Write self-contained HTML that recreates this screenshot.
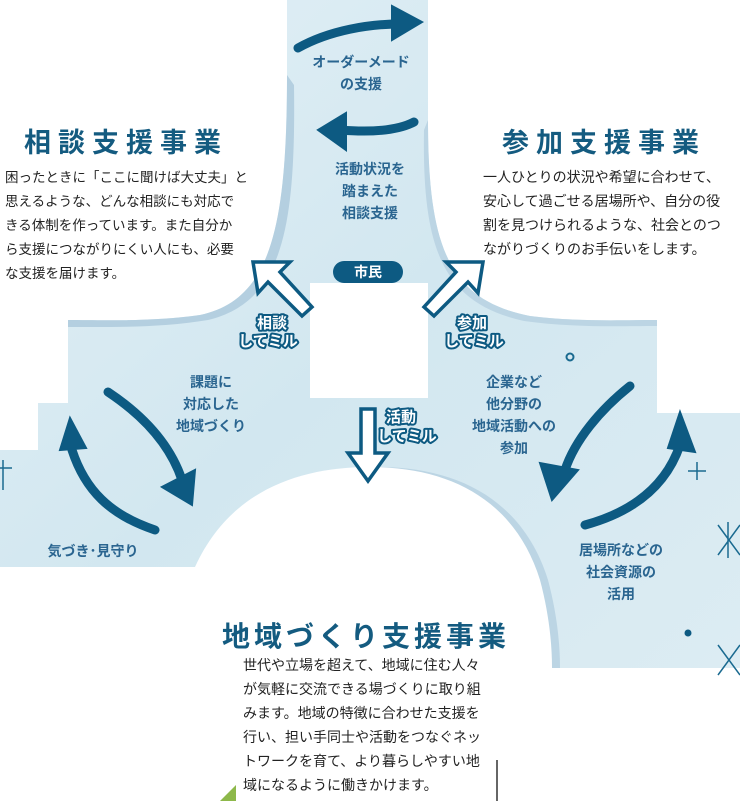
<!DOCTYPE html>
<html><head><meta charset="utf-8"><style>
html,body{margin:0;padding:0;background:#fff;}
body{width:740px;height:801px;overflow:hidden;position:relative;font-family:"Liberation Sans","Noto Sans CJK JP",sans-serif;}
svg{position:absolute;left:0;top:0;}
.t{font-family:"Liberation Sans","Noto Sans CJK JP",sans-serif;}
</style></head><body>
<svg width="740" height="801" viewBox="0 0 740 801" xmlns="http://www.w3.org/2000/svg">
<defs>
<linearGradient id="g" x1="0" y1="0" x2="1" y2="1">
<stop offset="0" stop-color="#e3f0f6"/><stop offset="0.5" stop-color="#d2e7f0"/><stop offset="1" stop-color="#dcecf3"/>
</linearGradient>
</defs>
<!-- blue base -->
<path d="M287 0 H428 V120 C428 250 450 300 530 316 C580 322 620 320 657 320 V413 H740 V668 H552 L533 567 H195 L0 567 V450 H38 V403 H68 V320 C100 320 150 322 200 315 C270 300 287 230 287 75 Z" fill="url(#g)"/>
<!-- shadow bands -->
<path d="M287 75 C287 230 270 300 200 315 C150 322 100 320 68 320 V327 C110 327 160 328 208 320 C282 302 296 230 294 85 Z" fill="#b4cfe0"/>
<path d="M428 120 C428 250 450 300 530 316 C580 322 620 320 657 320 V326 C620 326 575 328 524 321 C443 303 422 250 424 130 Z" fill="#bcd5e4"/>
<!-- bottom white dome -->
<path d="M203 567 C238 490 308 467 378 467 C458 467 523 500 548 580 C556 610 560 640 560 668 V801 H203 Z" fill="#bcd5e4"/>
<path d="M195 567 C230 490 300 467 370 467 C450 467 515 500 540 580 C548 610 552 640 552 668 V801 H195 Z" fill="#fff"/>
<rect x="552" y="668" width="20" height="133" fill="#fff"/>
<rect x="0" y="567" width="195" height="234" fill="#fff"/>
<!-- white box -->
<rect x="310" y="283" width="118" height="115" fill="#fff"/>
<!-- misc bottom -->
<path d="M220 801 L236 785 L236 801 Z" fill="#8db84a"/>
<line x1="497" y1="760" x2="497" y2="801" stroke="#333" stroke-width="1.5"/>

<!-- top arrows -->
<g fill="#0d5a82" stroke="#0d5a82">
<path d="M298 48 C330 30 370 24 400 24" fill="none" stroke-width="9" stroke-linecap="round"/>
<path d="M392 6 L422 22 L392 40 Z" stroke-width="2"/>
<path d="M414 122 C395 132 365 132 340 130" fill="none" stroke-width="9" stroke-linecap="round"/>
<path d="M346 113 L318 130 L346 150 Z" stroke-width="2"/>
<path d="M108 392 C150 420 172 450 182 480" fill="none" stroke-width="9" stroke-linecap="round"/>
<path d="M162 487 L192 505 L195 470 Z" stroke-width="2"/>
<path d="M155 530 C110 515 85 490 72 450" fill="none" stroke-width="9" stroke-linecap="round"/>
<path d="M60 450 L70 418 L86 448 Z" stroke-width="2"/>
<path d="M630 386 C600 410 575 440 565 470" fill="none" stroke-width="9" stroke-linecap="round"/>
<path d="M540 463 L552 500 L578 470 Z" stroke-width="2"/>
<path d="M585 525 C640 510 668 480 680 445" fill="none" stroke-width="9" stroke-linecap="round"/>
<path d="M668 448 L680 412 L695 452 Z" stroke-width="2"/>
</g>
<!-- outline arrows -->
<g fill="#fff" stroke="#0d5a82" stroke-width="3.5" stroke-linejoin="miter">
<path d="M253 262 L290 262 L280 272 L312 307 L302 316 L268 282 L258 293 Z"/>
<path d="M483 262 L446 262 L456 272 L424 307 L434 316 L468 282 L478 293 Z"/>
<path d="M361 409 L375 409 L375 453 L388 453 L368 481 L348 453 L361 453 Z"/>
</g>
<!-- stars -->
<g stroke="#1a6a90" stroke-width="1.5" fill="none">
<path d="M697 462 V480 M688 471 H706"/>
<path d="M718 525 L740 555 M740 525 L718 555 M728 522 V558"/>
<path d="M718 645 L740 675 M740 645 L718 675"/>
<path d="M0 468 H12 M3 460 V490"/>
<circle cx="570" cy="357" r="3.5" stroke-width="2"/>
</g>
<circle cx="688" cy="633" r="3.5" fill="#0d5a82"/>
<rect x="333" y="261" width="70" height="22" rx="11" fill="#0d5a82"/>
<text x="368" y="277" text-anchor="middle" class="t" font-size="14" font-weight="bold" fill="#fff">市民</text>

<g class="t" font-weight="bold" fill="#145b80" font-size="27" letter-spacing="7">
<text x="24" y="152">相談支援事業</text>
<text x="502" y="152">参加支援事業</text>
<text x="222" y="646" letter-spacing="4" font-size="28">地域づくり支援事業</text>
</g>
<g class="t" fill="#222" font-size="13.5">
<text x="5" y="182">困ったときに「ここに聞けば大丈夫」と</text>
<text x="5" y="206">思えるような、どんな相談にも対応で</text>
<text x="5" y="230">きる体制を作っています。また自分か</text>
<text x="5" y="254">ら支援につながりにくい人にも、必要</text>
<text x="5" y="278">な支援を届けます。</text>
</g>
<g class="t" fill="#222" font-size="14">
<text x="483" y="182">一人ひとりの状況や希望に合わせて、</text>
<text x="483" y="206">安心して過ごせる居場所や、自分の役</text>
<text x="483" y="230">割を見つけられるような、社会とのつ</text>
<text x="483" y="254">ながりづくりのお手伝いをします。</text>
</g>
<g class="t" fill="#222" font-size="14">
<text x="243" y="670">世代や立場を超えて、地域に住む人々</text>
<text x="243" y="694">が気軽に交流できる場づくりに取り組</text>
<text x="243" y="718">みます。地域の特徴に合わせた支援を</text>
<text x="243" y="742">行い、担い手同士や活動をつなぐネッ</text>
<text x="243" y="766">トワークを育て、より暮らしやすい地</text>
<text x="243" y="790">域になるように働きかけます。</text>
</g>
<g class="t" fill="#2a6590" font-size="14" font-weight="bold" text-anchor="middle">
<text x="361" y="67">オーダーメード</text>
<text x="361" y="89">の支援</text>
<text x="370" y="174">活動状況を</text>
<text x="370" y="196">踏まえた</text>
<text x="370" y="218">相談支援</text>
<text x="211" y="387">課題に</text>
<text x="211" y="409">対応した</text>
<text x="211" y="431">地域づくり</text>
<text x="514" y="387">企業など</text>
<text x="514" y="409">他分野の</text>
<text x="514" y="431">地域活動への</text>
<text x="514" y="453">参加</text>
<text x="93" y="556">気づき･見守り</text>
<text x="621" y="555">居場所などの</text>
<text x="621" y="577">社会資源の</text>
<text x="621" y="599">活用</text>
</g>
<g class="t" font-size="15" font-weight="bold" fill="#fff" stroke="#0d5a82" stroke-width="4" paint-order="stroke" stroke-linejoin="round" text-anchor="middle">
<text x="272" y="328">相談</text>
<text x="268" y="346">してミル</text>
<text x="472" y="328">参加</text>
<text x="474" y="346">してミル</text>
<text x="401" y="422">活動</text>
<text x="407" y="441">してミル</text>
</g>
</svg>
</body></html>
